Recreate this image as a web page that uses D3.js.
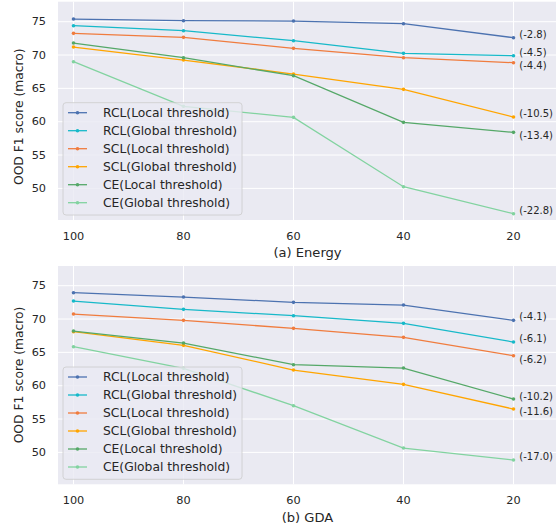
<!DOCTYPE html>
<html><head><meta charset="utf-8">
<script src="https://cdn.jsdelivr.net/npm/d3@7"></script>
<style>body{margin:0;background:#fff}svg{display:block;font-family:"DejaVu Sans",sans-serif}</style>
</head><body><svg id="c" width="559" height="526"></svg>
<script>
// ---- data ----
const xValues = [100, 80, 60, 40, 20];
const yTicks = [50, 55, 60, 65, 70, 75];
const seriesNames = ["RCL(Local threshold)", "RCL(Global threshold)", "SCL(Local threshold)",
  "SCL(Global threshold)", "CE(Local threshold)", "CE(Global threshold)"];
const seriesColors = ["#4c72b0", "#17b9c9", "#f07c3e", "#ffa500", "#55a868", "#82d3a0"];

// (a) Energy
const energyRCLLocal   = [75.4, 75.15, 75.1, 74.7, 72.6];
const energyRCLGlobal  = [74.4, 73.65, 72.15, 70.25, 69.9];
const energySCLLocal   = [73.25, 72.65, 71.0, 69.6, 68.85];
const energySCLGlobal  = [71.2, 69.25, 67.15, 64.85, 60.7];
const energyCELocal    = [71.8, 69.6, 66.9, 59.9, 58.4];
const energyCEGlobal   = [69.0, 62.3, 60.65, 50.25, 46.2];
const energyDeltas     = ["(-2.8)", "(-4.5)", "(-4.4)", "(-10.5)", "(-13.4)", "(-22.8)"];
const energyLabelY     = [73.15, 70.4, 68.4, 61.25, 57.9, 46.65];

// (b) GDA
const gdaRCLLocal   = [73.95, 73.3, 72.5, 72.1, 69.8];
const gdaRCLGlobal  = [72.7, 71.45, 70.5, 69.35, 66.55];
const gdaSCLLocal   = [70.75, 69.8, 68.6, 67.25, 64.5];
const gdaSCLGlobal  = [68.1, 66.05, 62.35, 60.2, 56.5];
const gdaCELocal    = [68.2, 66.4, 63.15, 62.65, 58.0];
const gdaCEGlobal   = [65.85, 62.6, 57.0, 50.65, 48.85];
const gdaDeltas     = ["(-4.1)", "(-6.1)", "(-6.2)", "(-10.2)", "(-11.6)", "(-17.0)"];
const gdaLabelY     = [70.35, 67.05, 64.0, 58.45, 56.1, 49.35];

const panels = [
  {title: "(a) Energy", series: [energyRCLLocal, energyRCLGlobal, energySCLLocal, energySCLGlobal, energyCELocal, energyCEGlobal],
   deltas: energyDeltas, labelY: energyLabelY, top: 1.7, bottom: 220, y75: 21.7, ylabelY: 116.7},
  {title: "(b) GDA", series: [gdaRCLLocal, gdaRCLGlobal, gdaSCLLocal, gdaSCLGlobal, gdaCELocal, gdaCEGlobal],
   deltas: gdaDeltas, labelY: gdaLabelY, top: 266, bottom: 484.3, y75: 285.7, ylabelY: 375}
];

const svg = d3.select("#c");
const left = 58, right = 556;
const x = d3.scaleLinear().domain([100, 20]).range([73.5, 513.5]);
const txt = "#262626";

panels.forEach(p => {
  const y = d3.scaleLinear().domain([75, 50]).range([p.y75, p.y75 + 25 * 6.667]);
  const g = svg.append("g");
  g.append("rect").attr("x", left).attr("y", p.top).attr("width", right - left)
    .attr("height", p.bottom - p.top).attr("fill", "#eaeaf2");
  // grid
  g.selectAll(".gy").data(yTicks).enter().append("line")
    .attr("x1", left).attr("x2", right).attr("y1", d => y(d)).attr("y2", d => y(d))
    .attr("stroke", "#fff").attr("stroke-width", 1);
  g.selectAll(".gx").data(xValues).enter().append("line")
    .attr("x1", d => x(d)).attr("x2", d => x(d)).attr("y1", p.top).attr("y2", p.bottom)
    .attr("stroke", "#fff").attr("stroke-width", 1);
  // lines
  const line = d3.line().x((d, i) => x(xValues[i])).y(d => y(d));
  p.series.forEach((s, k) => {
    g.append("path").datum(s).attr("d", line).attr("fill", "none")
      .attr("stroke", seriesColors[k]).attr("stroke-width", 1.3);
    g.selectAll(null).data(s).enter().append("circle")
      .attr("cx", (d, i) => x(xValues[i])).attr("cy", d => y(d)).attr("r", 1.8)
      .attr("fill", seriesColors[k]);
  });
  // delta labels
  p.deltas.forEach((t, k) => {
    g.append("text").attr("x", x(20) + 5.8).attr("y", y(p.labelY[k]))
      .attr("dominant-baseline", "central").attr("font-size", 10).attr("fill", txt).text(t);
  });
  // legend
  const lx = 63, lw = 179, lh = 112.3, ly = p.bottom - 5 - lh;
  g.append("rect").attr("x", lx).attr("y", ly).attr("width", lw).attr("height", lh)
    .attr("rx", 3).attr("fill", "#eaeaf2").attr("fill-opacity", 0.8)
    .attr("stroke", "#cccccc").attr("stroke-width", 0.8);
  seriesNames.forEach((n, k) => {
    const ry = ly + 10 + k * 18;
    g.append("line").attr("x1", lx + 5).attr("x2", lx + 24).attr("y1", ry).attr("y2", ry)
      .attr("stroke", seriesColors[k]).attr("stroke-width", 1.3);
    g.append("circle").attr("cx", lx + 14.5).attr("cy", ry).attr("r", 1.8).attr("fill", seriesColors[k]);
    g.append("text").attr("x", lx + 40).attr("y", ry).attr("dominant-baseline", "central")
      .attr("font-size", 12.3).attr("fill", txt).text(n);
  });
  // ticks
  g.selectAll(".ty").data(yTicks).enter().append("text")
    .attr("x", 46).attr("y", d => y(d)).attr("text-anchor", "end").attr("dominant-baseline", "central")
    .attr("font-size", 11.3).attr("fill", txt).text(d => d);
  g.selectAll(".tx").data(xValues).enter().append("text")
    .attr("x", d => x(d)).attr("y", p.bottom + 16.6).attr("text-anchor", "middle").attr("dominant-baseline", "central")
    .attr("font-size", 11.3).attr("fill", txt).text(d => d);
  g.append("text").attr("x", 307.5).attr("y", p.bottom + 32.7).attr("text-anchor", "middle")
    .attr("dominant-baseline", "central").attr("font-size", 13.1).attr("fill", txt).text(p.title);
  g.append("text").attr("transform", `translate(19,${p.ylabelY}) rotate(-90)`)
    .attr("text-anchor", "middle").attr("dominant-baseline", "central")
    .attr("font-size", 12.3).attr("fill", txt).text("OOD F1 score (macro)");
});
</script></body></html>
